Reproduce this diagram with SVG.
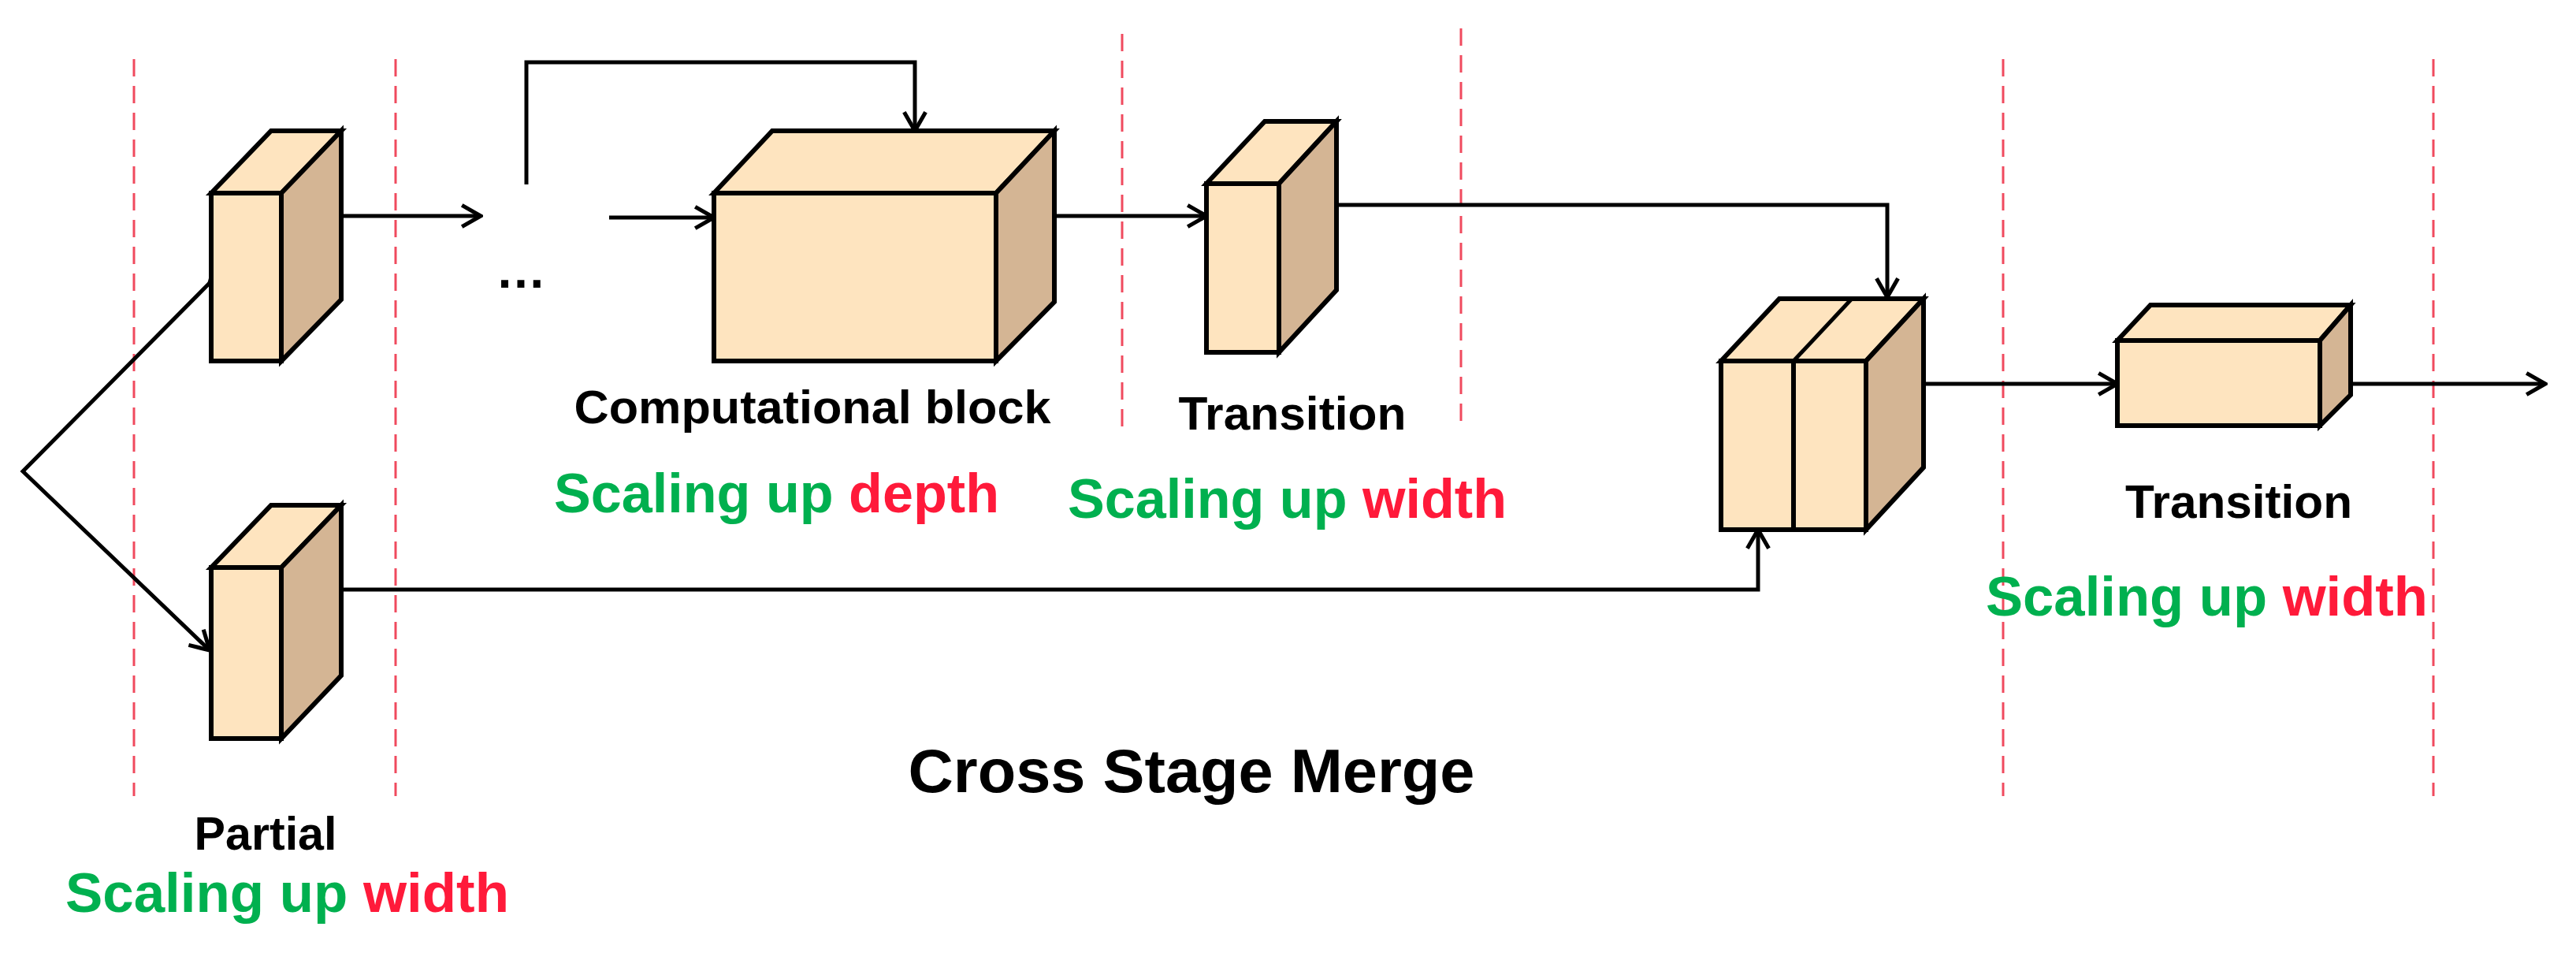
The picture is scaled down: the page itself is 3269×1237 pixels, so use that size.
<svg xmlns="http://www.w3.org/2000/svg" width="3269" height="1237" viewBox="0 0 3269 1237">
<style>
.f{fill:#fee4bf;stroke:#000;stroke-width:6;stroke-linejoin:miter}
.s{fill:#d4b594;stroke:#000;stroke-width:6}
.c{fill:none;stroke:#000;stroke-width:5}
.d{stroke:#f04a5e;stroke-width:3;stroke-dasharray:22 12;fill:none}
.t{font-family:"Liberation Sans",Arial,sans-serif;font-weight:bold;fill:#000}
.g{fill:#00b04f}.r{fill:#ff1a3a}
</style>
<defs>
<marker id="a" viewBox="0 0 20 20" refX="18" refY="10" markerWidth="34" markerHeight="34" markerUnits="userSpaceOnUse" orient="auto">
<path d="M4,2 L18,10 L4,18" fill="none" stroke="#000" stroke-width="3"/>
</marker>
</defs>
<rect width="3269" height="1237" fill="#fff"/>
<g id="dividers">
<line class="d" x1="170" y1="75" x2="170" y2="1010"/>
<line class="d" x1="502" y1="75" x2="502" y2="1010"/>
<line class="d" x1="1424" y1="43" x2="1424" y2="552"/>
<line class="d" x1="1854" y1="36" x2="1854" y2="544"/>
<line class="d" x1="2542" y1="75" x2="2542" y2="1010"/>
<line class="d" x1="3088" y1="75" x2="3088" y2="1010"/>
</g>
<g id="connectors">
<polyline class="c" points="266,359 29,598 266,825" marker-start="url(#a)" marker-end="url(#a)"/>
<line class="c" x1="433" y1="274" x2="610" y2="274" marker-end="url(#a)"/>
<polyline class="c" points="668,234 668,79 1161,79 1161,166" marker-end="url(#a)"/>
<line class="c" x1="773" y1="276" x2="906" y2="276" marker-end="url(#a)"/>
<line class="c" x1="1338" y1="274" x2="1531" y2="274" marker-end="url(#a)"/>
<polyline class="c" points="1696,260 2395,260 2395,377" marker-end="url(#a)"/>
<polyline class="c" points="433,748 2231,748 2231,672" marker-end="url(#a)"/>
<line class="c" x1="2441" y1="487" x2="2687" y2="487" marker-end="url(#a)"/>
<line class="c" x1="2983" y1="487" x2="3230" y2="487" marker-end="url(#a)"/>
</g>
<g id="partial1">
<polygon class="f" points="268,245 344,166 433,166 357,245"/>
<polygon class="s" points="357,245 433,166 433,380 357,458"/>
<rect class="f" x="268" y="245" width="89" height="213"/>
</g>
<g id="partial2">
<polygon class="f" points="268,720 344,641 433,641 357,720"/>
<polygon class="s" points="357,720 433,641 433,857 357,937"/>
<rect class="f" x="268" y="720" width="89" height="217"/>
</g>
<g id="ellipsis"><text class="t" x="661" y="365" font-size="64" text-anchor="middle">…</text></g>
<g id="computational">
<polygon class="f" points="906,245 980,166 1338,166 1264,245"/>
<polygon class="s" points="1264,245 1338,166 1338,383 1264,458"/>
<rect class="f" x="906" y="245" width="358" height="213"/>
</g>
<g id="transition1">
<polygon class="f" points="1531,233 1605,154 1696,154 1623,233"/>
<polygon class="s" points="1623,233 1696,154 1696,368 1623,447"/>
<rect class="f" x="1531" y="233" width="92" height="214"/>
</g>
<g id="merge">
<polygon class="f" points="2184,458 2258,379 2441,379 2368,458"/>
<line class="c" x1="2276" y1="458" x2="2350" y2="379" stroke-width="6"/>
<polygon class="s" points="2368,458 2441,379 2441,593 2368,672"/>
<rect class="f" x="2184" y="458" width="92" height="214"/>
<rect class="f" x="2276" y="458" width="92" height="214"/>
</g>
<g id="transition2">
<polygon class="f" points="2687,432 2729,387 2983,387 2944,432"/>
<polygon class="s" points="2944,432 2983,387 2983,501 2944,540"/>
<rect class="f" x="2687" y="432" width="257" height="108"/>
</g>
<g id="labels">
<text class="t" x="1031" y="537" font-size="60" text-anchor="middle" textLength="605" lengthAdjust="spacingAndGlyphs">Computational block</text>
<text class="t" x="1640" y="545" font-size="60" text-anchor="middle" textLength="289" lengthAdjust="spacingAndGlyphs">Transition</text>
<text class="t" x="2841" y="657" font-size="60" text-anchor="middle" textLength="288" lengthAdjust="spacingAndGlyphs">Transition</text>
<text class="t" x="337" y="1078" font-size="60" text-anchor="middle" textLength="181" lengthAdjust="spacingAndGlyphs">Partial</text>
<text class="t" x="1512" y="1005" font-size="78" text-anchor="middle" textLength="719" lengthAdjust="spacingAndGlyphs">Cross Stage Merge</text>
<text class="t" x="703" y="650" font-size="70" textLength="565" lengthAdjust="spacingAndGlyphs"><tspan class="g">Scaling up </tspan><tspan class="r">depth</tspan></text>
<text class="t" x="1355" y="657" font-size="70" textLength="557" lengthAdjust="spacingAndGlyphs"><tspan class="g">Scaling up </tspan><tspan class="r">width</tspan></text>
<text class="t" x="2520" y="781" font-size="70" textLength="561" lengthAdjust="spacingAndGlyphs"><tspan class="g">Scaling up </tspan><tspan class="r">width</tspan></text>
<text class="t" x="83" y="1157" font-size="70" textLength="563" lengthAdjust="spacingAndGlyphs"><tspan class="g">Scaling up </tspan><tspan class="r">width</tspan></text>
</g>
</svg>
